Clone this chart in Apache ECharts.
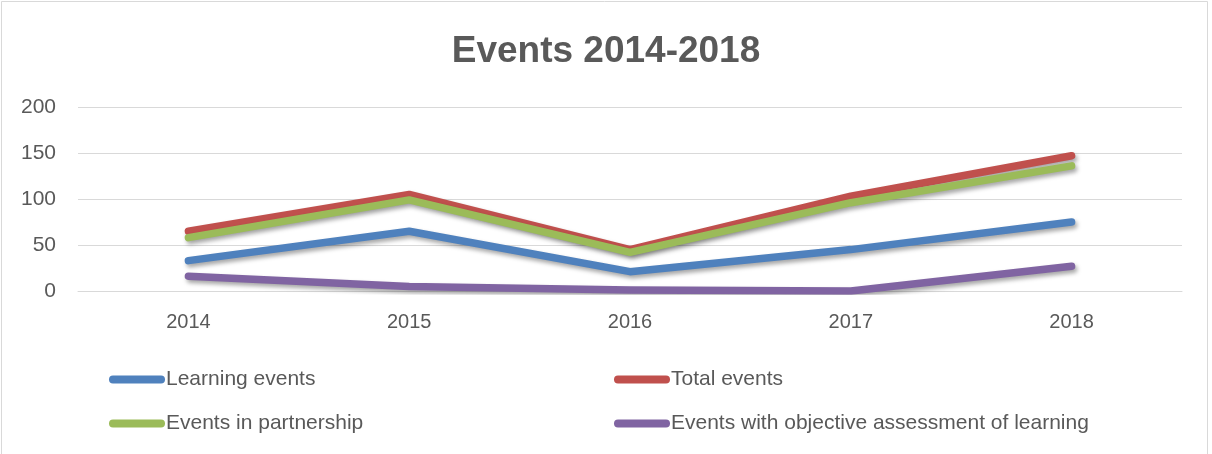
<!DOCTYPE html>
<html>
<head>
<meta charset="utf-8">
<script src="https://cdn.jsdelivr.net/npm/echarts@6/dist/echarts.min.js"></script>
<style>
  html, body { margin: 0; padding: 0; background: #fff; }
  #chart { width: 1212px; height: 454px; }
</style>
</head>
<body>
<div id="chart"></div>
<script>
// 数据
const years = ['2014', '2015', '2016', '2017', '2018']
const learningEvents = [33, 65, 21, 45, 75]
const totalEvents = [65, 105, 45, 103, 147]
const partnershipEvents = [58, 99, 42, 96, 136]
const assessedEvents = [16, 5, 1, 0, 27]
const yTicks = [0, 50, 100, 150, 200]

const FONT = '"Liberation Sans", Arial, sans-serif'
const TEXT = '#595959'

const lineSeries = (name, data, color) => ({
  name,
  type: 'line',
  data,
  symbol: 'none',
  lineStyle: {
    color,
    width: 7.5,
    cap: 'round',
    join: 'round',
    shadowColor: 'rgba(0,0,0,0.35)',
    shadowBlur: 4,
    shadowOffsetX: 2,
    shadowOffsetY: 3,
  },
  itemStyle: { color },
  z: 2,
})

const legendIcon = 'path://M4,0 L52,0 A4,4 0 0 1 52,8 L4,8 A4,4 0 0 1 4,0 Z'

const chart = echarts.init(document.getElementById('chart'))
chart.setOption({
  animation: false,
  backgroundColor: '#fff',
  textStyle: { fontFamily: FONT },
  graphic: [{
    type: 'rect',
    shape: { x: 1.5, y: 1.5, width: 1206, height: 470 },
    style: { fill: 'none', stroke: '#d9d9d9', lineWidth: 1 },
    silent: true,
  }],
  title: {
    text: 'Events 2014-2018',
    left: 'center',
    top: 28,
    textStyle: { fontFamily: FONT, fontSize: 37, fontWeight: 'bold', color: TEXT },
  },
  legend: [
    {
      data: ['Learning events', 'Events in partnership'],
      orient: 'vertical',
      left: 104,
      top: 364,
      itemWidth: 56,
      itemHeight: 8,
      itemGap: 23,
      icon: legendIcon,
      textStyle: { fontFamily: FONT, fontSize: 21, color: TEXT, padding: [0, 0, 0, -4] },
    },
    {
      data: ['Total events', 'Events with objective assessment of learning'],
      orient: 'vertical',
      left: 609,
      top: 364,
      itemWidth: 56,
      itemHeight: 8,
      itemGap: 23,
      icon: legendIcon,
      textStyle: { fontFamily: FONT, fontSize: 21, color: TEXT, padding: [0, 0, 0, -4] },
    },
  ],
  grid: { left: 78, right: 30, top: 107, bottom: 163 },
  xAxis: {
    type: 'category',
    data: years,
    boundaryGap: true,
    axisLine: { show: true, lineStyle: { color: '#d9d9d9', width: 1 } },
    axisTick: { show: false },
    axisLabel: { color: TEXT, fontSize: 20, margin: 21, fontFamily: FONT },
  },
  yAxis: {
    type: 'value',
    min: yTicks[0],
    max: yTicks[yTicks.length - 1],
    interval: yTicks[1] - yTicks[0],
    axisLine: { show: false },
    axisTick: { show: false },
    axisLabel: { color: TEXT, fontSize: 21, margin: 22, fontFamily: FONT },
    splitLine: { lineStyle: { color: '#d9d9d9', width: 1 } },
  },
  series: [
    lineSeries('Learning events', learningEvents, '#4f81bd'),
    lineSeries('Total events', totalEvents, '#c0504d'),
    lineSeries('Events in partnership', partnershipEvents, '#9bbb59'),
    lineSeries('Events with objective assessment of learning', assessedEvents, '#8064a2'),
  ],
})
</script>
</body>
</html>
